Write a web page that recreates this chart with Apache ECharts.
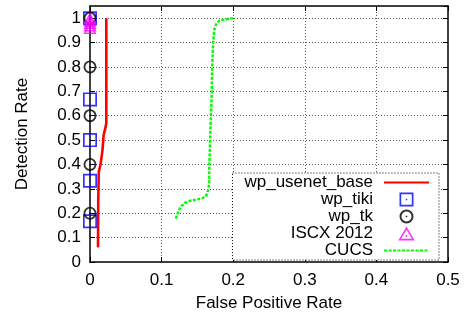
<!DOCTYPE html>
<html>
<head>
<meta charset="utf-8">
<script src="https://cdn.jsdelivr.net/npm/echarts@6/dist/echarts.min.js"></script>
<style>
html,body{margin:0;padding:0;background:#fff;}
#c{width:466px;height:317px;}
</style>
</head>
<body>
<div id="c"></div>
<script>
// ---- data ----
var xTicks = [0, 0.1, 0.2, 0.3, 0.4, 0.5];
var yTicks = [0, 0.1, 0.2, 0.3, 0.4, 0.5, 0.6, 0.7, 0.8, 0.9, 1];
var seriesNames = ['wp_usenet_base', 'wp_tiki', 'wp_tk', 'ISCX 2012', 'CUCS'];

var usenetX = [0.0112, 0.0115, 0.0123, 0.0147, 0.0175, 0.019, 0.0215, 0.0228, 0.0228];
var usenetY = [0.06, 0.25, 0.37, 0.40, 0.46, 0.52, 0.55, 0.57, 1.0];

var tikiX = [0, 0, 0, 0, 0];
var tikiY = [0.167, 0.333, 0.5, 0.667, 1.0];

var tkX = [0, 0, 0, 0, 0];
var tkY = [0.2, 0.4, 0.6, 0.8, 1.0];

var iscxX = [0, 0, 0, 0, 0];
var iscxY = [1.0, 0.99, 0.98, 0.97, 0.96];

var cucsX = [0.1197, 0.1216, 0.124, 0.1277, 0.1324, 0.1394, 0.1487, 0.158, 0.1627, 0.165, 0.1664, 0.1664, 0.1674, 0.168, 0.1697, 0.1706, 0.172, 0.1734, 0.1767, 0.181, 0.1907, 0.2];
var cucsY = [0.178, 0.192, 0.212, 0.229, 0.242, 0.251, 0.256, 0.263, 0.274, 0.295, 0.322, 0.377, 0.459, 0.527, 0.664, 0.801, 0.897, 0.952, 0.98, 0.99, 0.996, 1.0];

function zip(xs, ys) { return xs.map(function (x, i) { return [x, ys[i]]; }); }

// ---- symbols (outline + centre dot, gnuplot style) ----
var SQ = 'path://M0,0H14V14H0Z M1.7,1.7V12.3H12.3V1.7Z M6.3,6.3H7.7V7.7H6.3Z';
var CI = 'path://M7,0A7,7 0 1,1 7,14A7,7 0 1,1 7,0Z M7,2A5,5 0 1,0 7,12A5,5 0 1,0 7,2Z M6.2,6.2H7.8V7.8H6.2Z';
var TR = 'path://M7,0L14,12L0,12Z M7,2.8L2.44,10.6L11.56,10.6Z M6.3,7.3H7.7V8.7H6.3Z';

var FONT = 'Liberation Sans';
var chart = echarts.init(document.getElementById('c'), null, {renderer: 'canvas'});

function fmtX(v) {
  for (var i = 0; i < xTicks.length; i++) if (Math.abs(xTicks[i] - v) < 1e-9) return String(xTicks[i]);
  return '';
}
function fmtY(v) {
  for (var i = 0; i < yTicks.length; i++) if (Math.abs(yTicks[i] - v) < 1e-9) return String(yTicks[i]);
  return '';
}

var gridLine = {show: true, showMinLine: false, showMaxLine: false, lineStyle: {color: '#555', width: 1, type: [1, 2]}};
var axLine = {show: true, onZero: false, lineStyle: {color: '#000', width: 1.5}};
var tick = {show: true, inside: true, length: 5, lineStyle: {color: '#000', width: 1}};
var noSym = {color: 'rgba(0,0,0,0)', borderWidth: 0, opacity: 0};

var option = {
  animation: false,
  backgroundColor: '#fff',
  textStyle: {fontFamily: FONT},
  grid: {left: 90, right: 18, top: 6, bottom: 55, outerBoundsMode: 'none'},
  xAxis: [{
    type: 'value', min: 0, max: 0.5, interval: 0.1,
    name: 'False Positive Rate', nameLocation: 'middle', nameGap: 33,
    nameTextStyle: {fontFamily: FONT, fontSize: 17, color: '#000'},
    axisLine: axLine, axisTick: tick, splitLine: gridLine,
    axisLabel: {fontFamily: FONT, fontSize: 17, color: '#000', margin: 10, formatter: fmtX}
  }, {
    type: 'value', position: 'top', min: 0, max: 0.5, interval: 0.1,
    axisLine: axLine, axisTick: tick, splitLine: {show: false}, axisLabel: {show: false}
  }],
  yAxis: [{
    type: 'value', min: 0, max: 1.05, interval: 0.1,
    name: 'Detection Rate', nameLocation: 'middle', nameGap: 59, nameRotate: 90,
    nameTextStyle: {fontFamily: FONT, fontSize: 17, color: '#000'},
    axisLine: axLine, axisTick: tick, splitLine: gridLine,
    axisLabel: {fontFamily: FONT, fontSize: 17, color: '#000', margin: 9, formatter: fmtY, showMaxLabel: false}
  }, {
    type: 'value', position: 'right', min: 0, max: 1.05, interval: 0.1,
    axisLine: axLine, axisTick: tick, splitLine: {show: false}, axisLabel: {show: false}
  }],
  legend: {
    orient: 'vertical', align: 'right',
    right: 27, top: 173,
    padding: [1, 9, 1, 12],
    itemGap: 0, itemWidth: 45, itemHeight: 14,
    backgroundColor: '#fff', borderColor: '#000', borderWidth: 1, borderType: [1, 2],
    textStyle: {fontFamily: FONT, fontSize: 17, color: '#000', width: 146, padding: [0, 6, 0, 0], align: 'right'},
    data: [
      {name: seriesNames[0], itemStyle: noSym},
      seriesNames[1],
      seriesNames[2],
      seriesNames[3],
      {name: seriesNames[4], itemStyle: noSym}
    ]
  },
  series: [{
    name: seriesNames[0], type: 'line', data: zip(usenetX, usenetY),
    symbol: 'none', showSymbol: false, color: '#ff0000', lineStyle: {color: '#ff0000', width: 2.6}
  }, {
    name: seriesNames[1], type: 'scatter', data: zip(tikiX, tikiY), clip: false,
    symbol: SQ, symbolSize: 14, itemStyle: {color: '#0000ff', borderWidth: 0}
  }, {
    name: seriesNames[2], type: 'scatter', data: zip(tkX, tkY), clip: false,
    symbol: CI, symbolSize: 13, itemStyle: {color: '#000000', borderWidth: 0}
  }, {
    name: seriesNames[3], type: 'scatter', data: zip(iscxX, iscxY), clip: false,
    symbol: TR, symbolSize: [13, 12], itemStyle: {color: '#ff00ff', borderWidth: 0}
  }, {
    name: seriesNames[4], type: 'line', data: zip(cucsX, cucsY),
    symbol: 'none', showSymbol: false, color: '#00ff00', lineStyle: {color: '#00ff00', width: 2.5, type: [3, 1.5]}
  }]
};
chart.setOption(option);
</script>
</body>
</html>
